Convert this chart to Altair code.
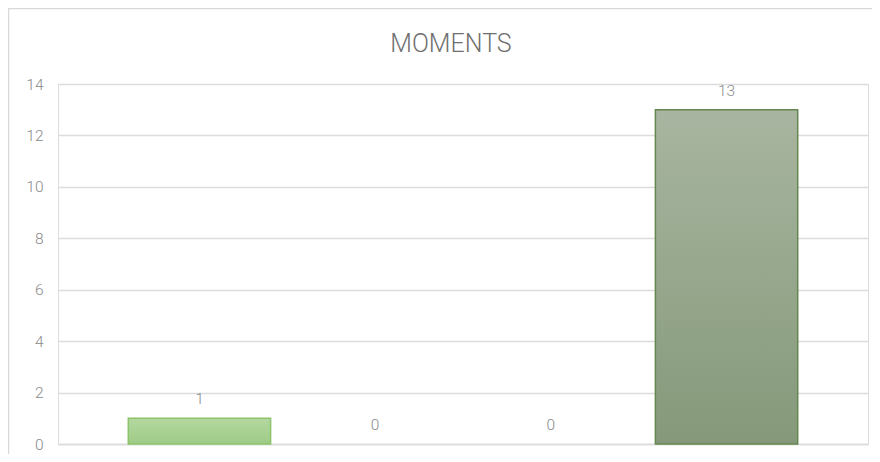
import altair as alt
import pandas as pd

categories = ["Category 1", "Category 2", "Category 3", "Category 4"]
values = [1, 0, 0, 13]
fill_top = ["#b4d8a0", "#a9c79a", "#a6bd99", "#a8b5a0"]
fill_bottom = ["#9ecb86", "#93b985", "#8fad80", "#85997a"]
stroke_colors = ["#8cc46c", "#7aa862", "#6f9a5a", "#66864f"]
y_ticks = [0, 2, 4, 6, 8, 10, 12, 14]
title_text = "MOMENTS"

df = pd.DataFrame({"cat": categories, "val": values})

FONT = "Roboto"
LABEL_COLOR = "#8a8a8a"
GRID = "#dcdcdc"

x_scale = alt.Scale(domain=categories, paddingInner=0.19, paddingOuter=0.4)
y_scale = alt.Scale(domain=[0, 14], nice=False)

x_enc = alt.X("cat:N", scale=x_scale, sort=categories,
              axis=alt.Axis(labels=False, ticks=False, title=None,
                            domainColor=GRID, domainWidth=1.5, grid=False))
y_enc = alt.Y("val:Q", scale=y_scale,
              axis=alt.Axis(values=y_ticks, title=None, ticks=False, domain=False,
                            labelPadding=15, labelFont=FONT, labelFontSize=15.5,
                            labelFontWeight=300, labelColor=LABEL_COLOR,
                            gridColor=GRID, gridWidth=1.5))

frame = alt.Chart(df).mark_rect(fill="transparent", stroke="#d9d9d9", strokeWidth=1.5).encode(
    x=alt.value(-49.5), x2=alt.value(900), y=alt.value(-75.5), y2=alt.value(500)
).transform_filter(alt.datum.cat == categories[0])

layers = [frame]
for i, c in enumerate(categories):
    grad = alt.Gradient(
        gradient="linear",
        stops=[alt.GradientStop(color=fill_top[i], offset=0),
               alt.GradientStop(color=fill_bottom[i], offset=1)],
        x1=0, x2=0, y1=0, y2=1,
    )
    bar = alt.Chart(df).transform_filter(alt.datum.cat == c).mark_bar(
        fill=grad, stroke=stroke_colors[i], strokeWidth=1.5,
        strokeOpacity=1 if values[i] > 0 else 0,
    ).encode(x=x_enc, y=y_enc)
    layers.append(bar)

labels = alt.Chart(df).mark_text(
    font=FONT, fontSize=15.5, fontWeight=300, color=LABEL_COLOR,
    baseline="alphabetic", dy=-14,
).encode(x=x_enc, y=y_enc, text=alt.Text("val:Q"))
layers.append(labels)

title = alt.Chart(df).transform_filter(alt.datum.cat == categories[0]).mark_text(
    font=FONT, fontSize=25, fontWeight=300, color="#707070", baseline="alphabetic",
    align="center",
).encode(x=alt.value(393), y=alt.value(-32), text=alt.value(title_text))
layers.append(title)

chart = alt.layer(*layers).properties(
    width=810, height=360,
    autosize=alt.AutoSizeParams(type="none"),
    padding={"left": 50, "top": 76, "right": 4, "bottom": 10},
).configure_view(stroke=None).configure(background="white")

chart.save("out.html", embed_options={"renderer": "svg", "actions": False})
